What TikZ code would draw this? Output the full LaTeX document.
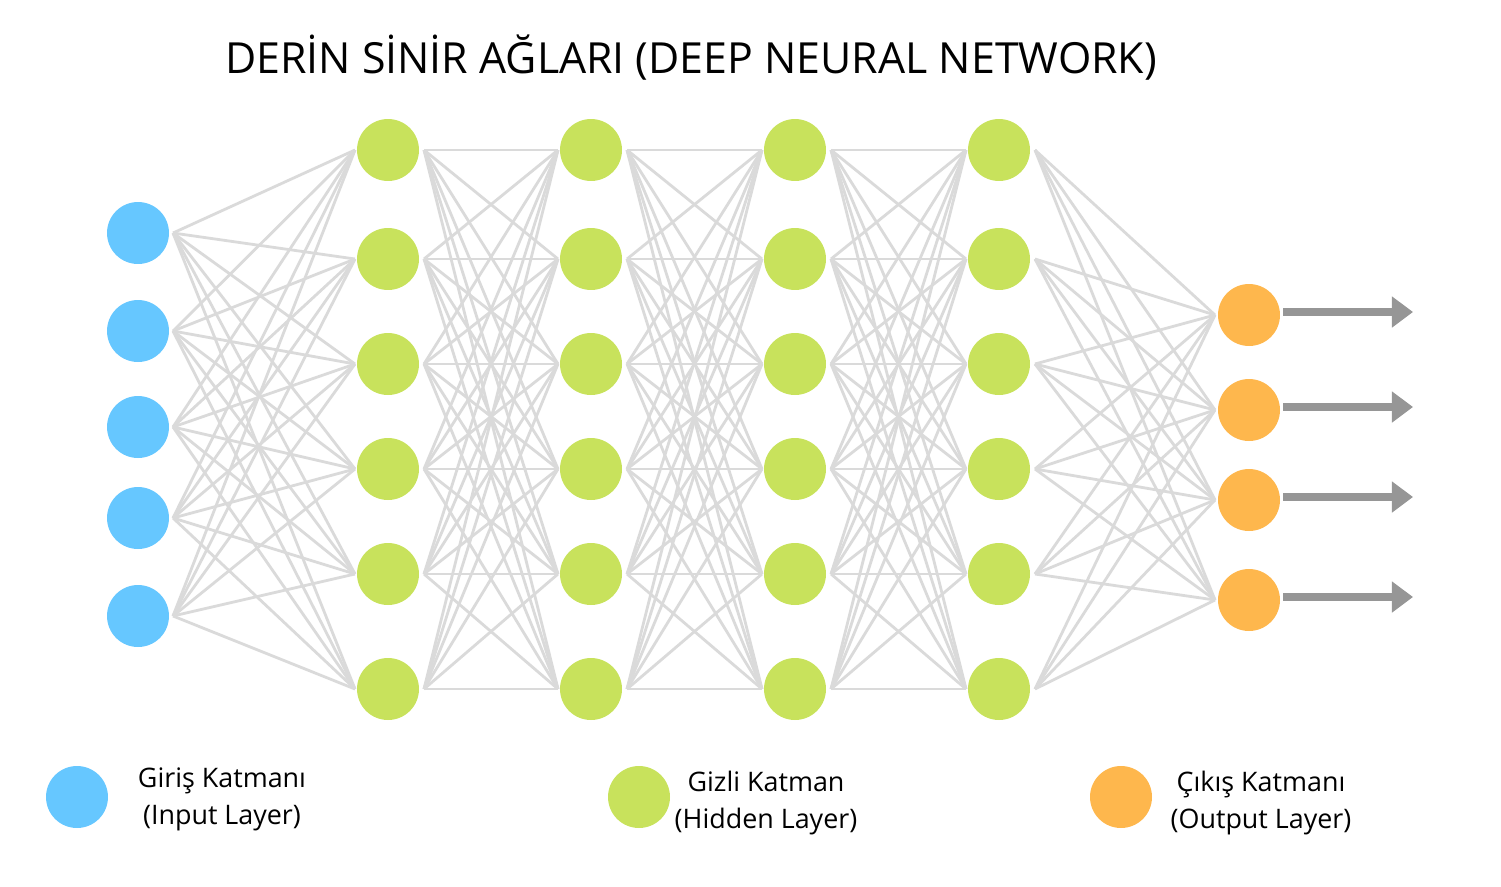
\documentclass[tikz,border=0pt]{standalone}
\usepackage{fontspec}
\setmainfont{Open Sans}
\usetikzlibrary{arrows.meta,calc}

\definecolor{inblue}{RGB}{102,199,255}
\definecolor{hidgreen}{RGB}{200,226,92}
\definecolor{outorange}{RGB}{254,183,77}
\definecolor{linkgray}{RGB}{218,218,218}
\definecolor{arrowgray}{RGB}{150,150,150}

\begin{document}
\begin{tikzpicture}[
  x=0.02cm,y=-0.02cm,
  neuron/.style={circle,fill=#1,minimum size=1.24cm,inner sep=0pt},
  link/.style={line width=1.6pt,draw=linkgray},
  outarrow/.style={-{Triangle[length=12pt,width=17pt]},line width=4pt,draw=arrowgray},
  legtext/.style={font=\fontsize{15.3}{21}\selectfont,align=center,text=black},
]
\useasboundingbox (0,0) rectangle (1501,886);

% Title
\node[font=\fontsize{24.4}{28}\selectfont] (title) at (691,58) {DERİN SİNİR AĞLARI (DEEP NEURAL NETWORK)};

% Input layer
\foreach \y [count=\i] in {233,331,427,518,616}{
  \node[neuron=inblue] (I\i) at (138,\y) {};
  \coordinate (I\i-r) at ($(I\i)+(35,0)$);
}

% Hidden layers
\foreach \x [count=\l] in {388,591,795,999}{
  \foreach \y [count=\i] in {150,259,364,469,574,689}{
    \node[neuron=hidgreen] (H\l-\i) at (\x,\y) {};
    \coordinate (H\l-\i-l) at ($(H\l-\i)+(-33,0)$);
    \coordinate (H\l-\i-r) at ($(H\l-\i)+(36,0)$);
  }
}

% Output layer
\foreach \y [count=\i] in {315,410,500,600}{
  \node[neuron=outorange] (O\i) at (1249,\y) {};
  \coordinate (O\i-l) at ($(O\i)+(-34,0)$);
  \coordinate (O\i-out) at ($(O\i)+(164,-3)$);
}

% Connections
\foreach \i in {1,...,5}
  \foreach \j in {1,...,6}
    \draw[link] (I\i-r) -- (H1-\j-l);
\foreach \l/\m in {1/2,2/3,3/4}
  \foreach \i in {1,...,6}
    \foreach \j in {1,...,6}
      \draw[link] (H\l-\i-r) -- (H\m-\j-l);
\foreach \i in {1,...,6}
  \foreach \j in {1,...,4}
    \draw[link] (H4-\i-r) -- (O\j-l);

% Output arrows
\foreach \i in {1,...,4}
  \draw[outarrow] ($(O\i)+(34,-3)$) -- (O\i-out);

% Legend
\node[neuron=inblue] (legin) at (77,797) {};
\node[legtext] (legintext) at (222,799) {Giriş Katmanı\\(Input Layer)};
\node[neuron=hidgreen] (leghid) at (639,797) {};
\node[legtext] (leghidtext) at (766,803) {Gizli Katman\\(Hidden Layer)};
\node[neuron=outorange] (legout) at (1121,797) {};
\node[legtext] (legouttext) at (1261,803) {Çıkış Katmanı\\(Output Layer)};

\end{tikzpicture}
\end{document}
